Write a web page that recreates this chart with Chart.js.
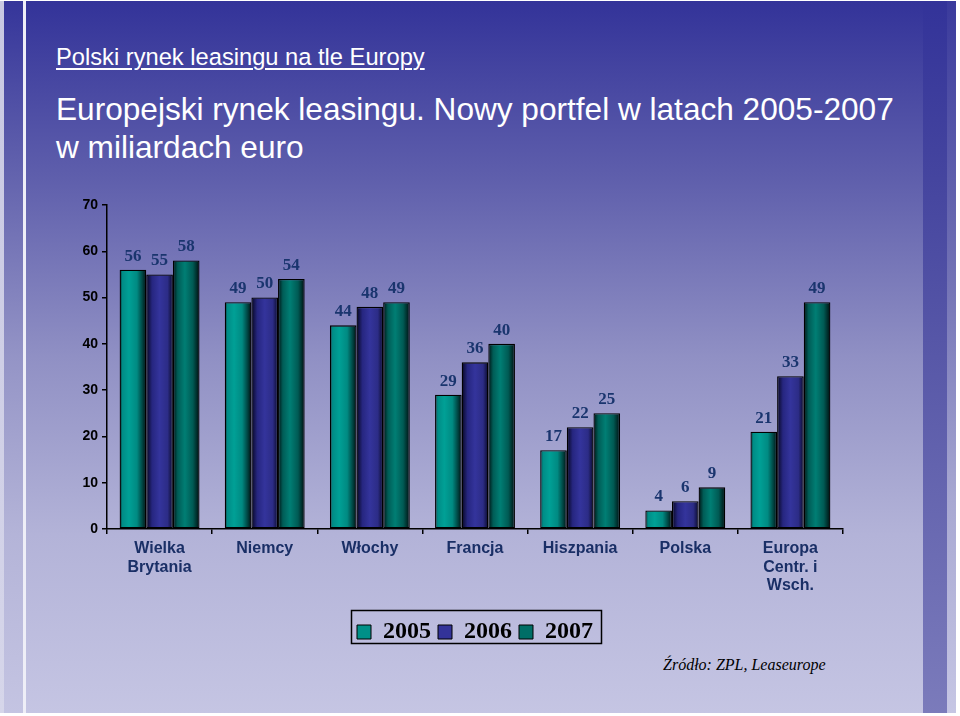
<!DOCTYPE html>
<html>
<head>
<meta charset="utf-8">
<script src="https://cdn.jsdelivr.net/npm/chart.js@4.4.1/dist/chart.umd.min.js"></script>
<style>
  html, body { margin: 0; padding: 0; }
  body { width: 960px; height: 716px; overflow: hidden; position: relative; background: #ffffff; font-family: "Liberation Sans", Arial, sans-serif; }
  .layer { position: absolute; }
  #stripL { left: 0; top: 1px; width: 4px; height: 712px; background: linear-gradient(#c8c8e2, #d6d6ea); }
  #bandL { left: 4px; top: 1px; width: 19px; height: 712px; background: linear-gradient(#35359a 0%, #6464ae 25%, #9494c6 50%, #b4b4d8 75%, #c4c4e2 100%); }
  #lineL { left: 23px; top: 1px; width: 3px; height: 712px; background: #eeeef7; }
  #main { left: 26px; top: 1px; width: 897px; height: 712px; background: linear-gradient(#333399 0%, #5f5fac 25%, #9090c4 50%, #b3b3d8 75%, #c5c5e3 100%); }
  #bandR { left: 923px; top: 1px; width: 24px; height: 712px; background: linear-gradient(#333399 0%, #45459f 25%, #5858a8 50%, #6a6ab2 75%, #7b7bbb 100%); }
  #stripR { left: 947px; top: 1px; width: 9px; height: 712px; background: linear-gradient(#3a3a9c 0%, #7474b6 40%, #a8a8d2 70%, #c6c6e4 100%); }
  #sub { left: 56px; top: 44px; color: #ffffff; font-size: 23.7px; text-decoration: underline; text-underline-offset: 3px; text-decoration-thickness: 1.5px; white-space: nowrap; }
  #title { left: 56px; top: 90px; color: #ffffff; font-size: 31.6px; line-height: 38.4px; white-space: nowrap; }
  #src { left: 663px; top: 656px; color: #000000; font-family: "Liberation Serif", "Times New Roman", serif; font-style: italic; font-size: 16px; white-space: nowrap; }
  canvas { position: absolute; left: 0; top: 0; }
</style>
</head>
<body>
<div class="layer" id="stripL"></div>
<div class="layer" id="bandL"></div>
<div class="layer" id="lineL"></div>
<div class="layer" id="main"></div>
<div class="layer" id="bandR"></div>
<div class="layer" id="stripR"></div>
<div class="layer" id="sub">Polski rynek leasingu na tle Europy</div>
<div class="layer" id="title">Europejski rynek leasingu. Nowy portfel w latach 2005-2007<br>w miliardach euro</div>
<div class="layer" id="src">Źródło: ZPL, Leaseurope</div>
<canvas id="c" width="960" height="716"></canvas>
<script>
// ---- data ----
const categories = [["Wielka", "Brytania"], "Niemcy", "Włochy", "Francja", "Hiszpania", "Polska", ["Europa", "Centr. i", "Wsch."]];
const seriesNames = ["2005", "2006", "2007"];
const values2005 = [56, 49, 44, 29, 17, 4, 21];
const values2006 = [55, 50, 48, 36, 22, 6, 33];
const values2007 = [58, 54, 49, 40, 25, 9, 49];
const yTicks = [0, 10, 20, 30, 40, 50, 60, 70];

// ---- styles ----
const CAT_PCT = 0.76;
const gradStops = [
  [[0, '#002a28'], [0.1, '#008c86'], [0.35, '#00a096'], [0.65, '#008a82'], [0.88, '#003c3a'], [1, '#000c0c']],
  [[0, '#06061e'], [0.22, '#262680'], [0.5, '#34349c'], [0.8, '#2c2c86'], [1, '#0a0a2a']],
  [[0, '#001212'], [0.18, '#005c56'], [0.45, '#007e74'], [0.75, '#005a54'], [1, '#000e0e']]
];
const solidColors = ['#009088', '#333399', '#006e66'];

function barFill(ctx) {
  const chart = ctx.chart;
  const ds = ctx.datasetIndex;
  if (!chart.chartArea || ctx.type !== 'data') return solidColors[ds];
  const xs = chart.scales.x;
  const catW = (xs.right - xs.left) / categories.length;
  const slot = catW * CAT_PCT / seriesNames.length;
  const center = xs.getPixelForValue(ctx.dataIndex);
  const left = center - slot * seriesNames.length / 2 + ds * slot;
  const g = chart.ctx.createLinearGradient(left, 0, left + slot, 0);
  gradStops[ds].forEach(s => g.addColorStop(s[0], s[1]));
  return g;
}

const labelPlugin = {
  id: 'valueLabels',
  afterDatasetsDraw(chart) {
    const c = chart.ctx;
    c.save();
    c.font = 'bold 17px "Liberation Serif", "Times New Roman", serif';
    c.fillStyle = '#1a356e';
    c.textAlign = 'center';
    c.textBaseline = 'bottom';
    chart.data.datasets.forEach((d, i) => {
      const meta = chart.getDatasetMeta(i);
      meta.data.forEach((el, j) => {
        c.fillText(String(d.data[j]), el.x, el.y - 5);
      });
    });
    c.restore();
  }
};

const legendFrame = {
  id: 'legendFrame',
  afterDraw(chart) {
    const lg = chart.legend;
    if (!lg || !lg.legendHitBoxes || !lg.legendHitBoxes.length) return;
    const hb = lg.legendHitBoxes;
    let l = Infinity, r = -Infinity;
    hb.forEach(b => { l = Math.min(l, b.left); r = Math.max(r, b.left + b.width); });
    const t = hb[0].top;
    const c = chart.ctx;
    c.save();
    c.strokeStyle = '#000000';
    c.lineWidth = 1.5;
    c.strokeRect(Math.round(l - 6) + 0.5, Math.round(t - 10) + 0.5, Math.round(r - l + 14), 33);
    c.restore();
  }
};

const datasets = [values2005, values2006, values2007].map((vals, i) => ({
  label: seriesNames[i],
  data: vals,
  backgroundColor: barFill,
  borderColor: '#000000',
  borderWidth: 1.3,
  borderSkipped: false,
  categoryPercentage: CAT_PCT,
  barPercentage: 1.0
}));

new Chart(document.getElementById('c'), {
  type: 'bar',
  data: { labels: categories, datasets },
  plugins: [labelPlugin, legendFrame],
  options: {
    responsive: false,
    animation: false,
    layout: { padding: { left: 57, right: 117, top: 205, bottom: 62 } },
    plugins: {
      tooltip: { enabled: false },
      title: { display: false },
      legend: {
        display: true,
        position: 'bottom',
        fullSize: false,
        labels: {
          font: { family: '"Liberation Serif", "Times New Roman", serif', size: 24, weight: 'bold' },
          color: '#000000',
          boxWidth: 14,
          boxHeight: 14,
          padding: 7,
          generateLabels(chart) {
            return seriesNames.map((n, i) => ({
              text: n,
              fillStyle: solidColors[i],
              strokeStyle: '#000000',
              lineWidth: 1,
              datasetIndex: i,
              hidden: false
            }));
          }
        }
      }
    },
    scales: {
      x: {
        grid: { display: true, drawOnChartArea: false, drawTicks: true, tickLength: 5, color: '#000000', lineWidth: 1.5, offset: true },
        border: { display: true, color: '#000000', width: 1.5 },
        ticks: {
          color: '#1a2f66',
          font: { family: '"Liberation Sans", Arial, sans-serif', size: 16, weight: 'bold', lineHeight: 1.13 },
          padding: 6,
          maxRotation: 0,
          autoSkip: false
        },
        afterFit(scale) { scale.height = 84; }
      },
      y: {
        min: 0,
        max: 70,
        afterBuildTicks(scale) { scale.ticks = yTicks.map(v => ({ value: v })); },
        grid: { display: true, drawOnChartArea: false, drawTicks: true, tickLength: 5, color: '#000000', lineWidth: 1.5 },
        border: { display: true, color: '#000000', width: 1.5 },
        ticks: {
          color: '#000000',
          font: { family: '"Liberation Sans", Arial, sans-serif', size: 14, weight: 'bold' },
          padding: 4
        },
        afterFit(scale) { scale.width = 50; }
      }
    }
  }
});
</script>
</body>
</html>
